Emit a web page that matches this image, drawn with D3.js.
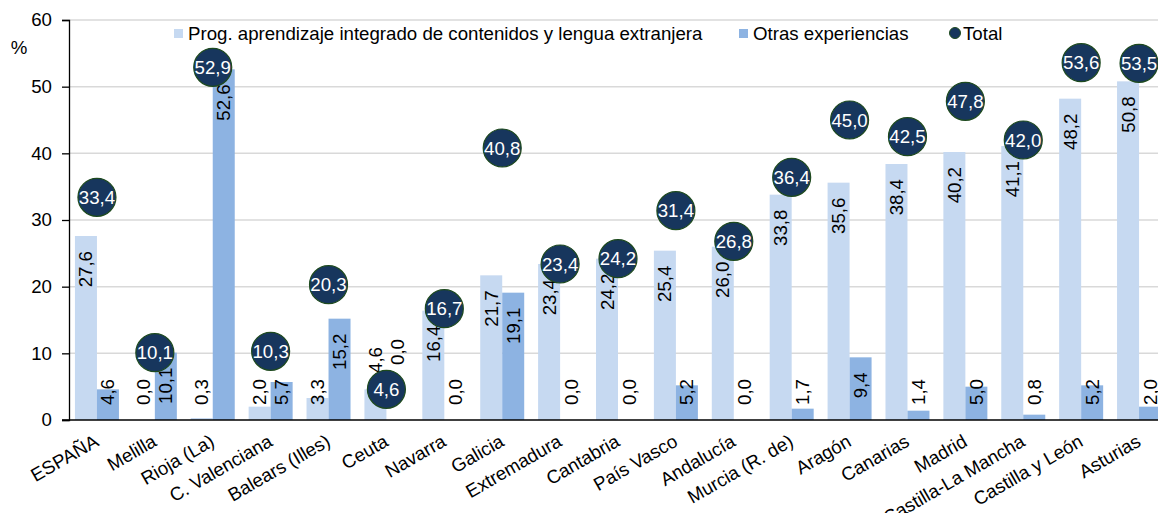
<!DOCTYPE html>
<html>
<head>
<meta charset="utf-8">
<script src="https://cdn.jsdelivr.net/npm/d3@7"></script>
<style>
  body { margin: 0; background: #fff; }
  svg { display: block; font-family: "Liberation Sans", Arial, sans-serif; }
</style>
</head>
<body>
<svg id="chart"></svg>
<script>
// data
var categories = ["ESPAÑA", "Melilla", "Rioja (La)", "C. Valenciana", "Balears (Illes)", "Ceuta",
    "Navarra", "Galicia", "Extremadura", "Cantabria", "País Vasco", "Andalucía", "Murcia (R. de)",
    "Aragón", "Canarias", "Madrid", "Castilla-La Mancha", "Castilla y León", "Asturias"];
var progValues = [27.6, 0.0, 0.3, 2.0, 3.3, 4.6, 16.4, 21.7, 23.4, 24.2, 25.4, 26.0, 33.8, 35.6, 38.4, 40.2, 41.1, 48.2, 50.8];
var otrasValues = [4.6, 10.1, 52.6, 5.7, 15.2, 0.0, 0.0, 19.1, 0.0, 0.0, 5.2, 0.0, 1.7, 9.4, 1.4, 5.0, 0.8, 5.2, 2.0];
var totalValues = [33.4, 10.1, 52.9, 10.3, 20.3, 4.6, 16.7, 40.8, 23.4, 24.2, 31.4, 26.8, 36.4, 45.0, 42.5, 47.8, 42.0, 53.6, 53.5];
var yTicks = [0, 10, 20, 30, 40, 50, 60];
var seriesNames = ["Prog. aprendizaje integrado de contenidos y lengua extranjera", "Otras experiencias", "Total"];

(function() {
    var W = 1158, H = 513;
    var fs = 18.67;
    var colors = { prog: "#c6d9f1", otras: "#8db3e2", total: "#17365d", totalStroke: "#1e4a1e" };
    var fmt = function(v) { return d3.format(".1f")(v).replace(".", ","); };

    var svg = d3.select("#chart").attr("width", W).attr("height", H);

    var x = d3.scaleBand()
        .domain(categories)
        .range([68, 1168])
        .paddingInner(0.24)
        .paddingOuter(0.12);
    var x1 = d3.scaleBand().domain(["prog", "otras"]).range([0, x.bandwidth()]);
    var y = d3.scaleLinear().domain([0, 60]).range([420, 20]);

    // gridlines
    svg.append("g").selectAll("line")
        .data(yTicks.filter(d => d > 0))
        .enter().append("line")
        .attr("x1", 69).attr("x2", W)
        .attr("y1", d => y(d)).attr("y2", d => y(d))
        .attr("stroke", "#d9d9d9").attr("stroke-width", 1.5);

    // y axis
    var yAxis = svg.append("g")
        .attr("transform", "translate(69,0)")
        .call(d3.axisLeft(y).tickValues(yTicks).tickSize(7).tickPadding(10).tickFormat(d3.format("d")));
    yAxis.select(".domain").attr("stroke", "#000").attr("stroke-width", 1.3);
    yAxis.selectAll(".tick line").attr("stroke", "#000").attr("stroke-width", 1.3);
    yAxis.selectAll(".tick text").attr("font-size", fs).attr("fill", "#000").attr("font-family", null);

    svg.append("text")
        .attr("x", 19).attr("y", 47).attr("dy", "0.35em")
        .attr("text-anchor", "middle").attr("font-size", fs)
        .text("%");

    var rows = categories.map((c, i) => ({ cat: c, prog: progValues[i], otras: otrasValues[i], total: totalValues[i] }));

    // bars
    var groups = svg.append("g").selectAll("g")
        .data(rows)
        .enter().append("g")
        .attr("transform", d => `translate(${x(d.cat)},0)`);

    groups.selectAll("rect")
        .data(d => ["prog", "otras"].map(k => ({ key: k, value: d[k], cat: d.cat })))
        .enter().append("rect")
        .attr("x", d => x1(d.key))
        .attr("width", x1.bandwidth())
        .attr("y", d => y(d.value))
        .attr("height", d => y(0) - y(d.value))
        .attr("fill", d => colors[d.key]);

    // x axis line
    svg.append("line")
        .attr("x1", 62).attr("x2", W)
        .attr("y1", y(0)).attr("y2", y(0))
        .attr("stroke", "#000").attr("stroke-width", 1.3);

    // bar value labels (rotated), Ceuta's were moved by hand in the original
    var labelMoved = { "Ceuta": { prog: 373, otras: 365 } };
    groups.selectAll("text.val")
        .data(d => ["prog", "otras"].map(k => ({ key: k, value: d[k], cat: d.cat })))
        .enter().append("text")
        .attr("class", "val")
        .attr("font-size", fs)
        .attr("fill", "#000")
        .attr("dy", "0.35em")
        .text(d => fmt(d.value))
        .each(function(d) {
            var len = this.getComputedTextLength();
            var bottom = Math.min(y(d.value) + 15 + len, 405);
            if (labelMoved[d.cat]) bottom = labelMoved[d.cat][d.key];
            var cx = x1(d.key) + x1.bandwidth() / 2;
            d3.select(this).attr("transform", `translate(${cx},${bottom}) rotate(-90)`);
        });

    // total circles
    var tot = svg.append("g").selectAll("g")
        .data(rows)
        .enter().append("g")
        .attr("transform", d => `translate(${x(d.cat) + x.bandwidth() / 2},${y(d.total)})`);
    tot.append("circle")
        .attr("r", 19)
        .attr("fill", colors.total)
        .attr("stroke", colors.totalStroke)
        .attr("stroke-width", 1.2);
    tot.append("text")
        .attr("text-anchor", "middle")
        .attr("dy", "0.35em")
        .attr("font-size", fs)
        .attr("fill", "#fff")
        .text(d => fmt(d.total));

    // category labels
    svg.append("g").selectAll("text")
        .data(categories)
        .enter().append("text")
        .attr("transform", d => `translate(${x(d) + x.bandwidth() / 2 + 3},445) rotate(-30)`)
        .attr("text-anchor", "end")
        .attr("font-size", fs)
        .attr("fill", "#000")
        .text(d => d);

    // legend
    var legend = svg.append("g");
    legend.append("rect").attr("x", 174).attr("y", 29).attr("width", 9).attr("height", 9).attr("fill", colors.prog);
    legend.append("text").attr("x", 188).attr("y", 33).attr("dy", "0.35em").attr("font-size", fs).text(seriesNames[0]);
    legend.append("rect").attr("x", 739).attr("y", 29).attr("width", 9).attr("height", 9).attr("fill", colors.otras);
    legend.append("text").attr("x", 753).attr("y", 33).attr("dy", "0.35em").attr("font-size", fs).text(seriesNames[1]);
    legend.append("circle").attr("cx", 955).attr("cy", 33).attr("r", 5.5).attr("fill", colors.total).attr("stroke", colors.totalStroke);
    legend.append("text").attr("x", 963).attr("y", 33).attr("dy", "0.35em").attr("font-size", fs).text(seriesNames[2]);
})();
</script>
</body>
</html>
